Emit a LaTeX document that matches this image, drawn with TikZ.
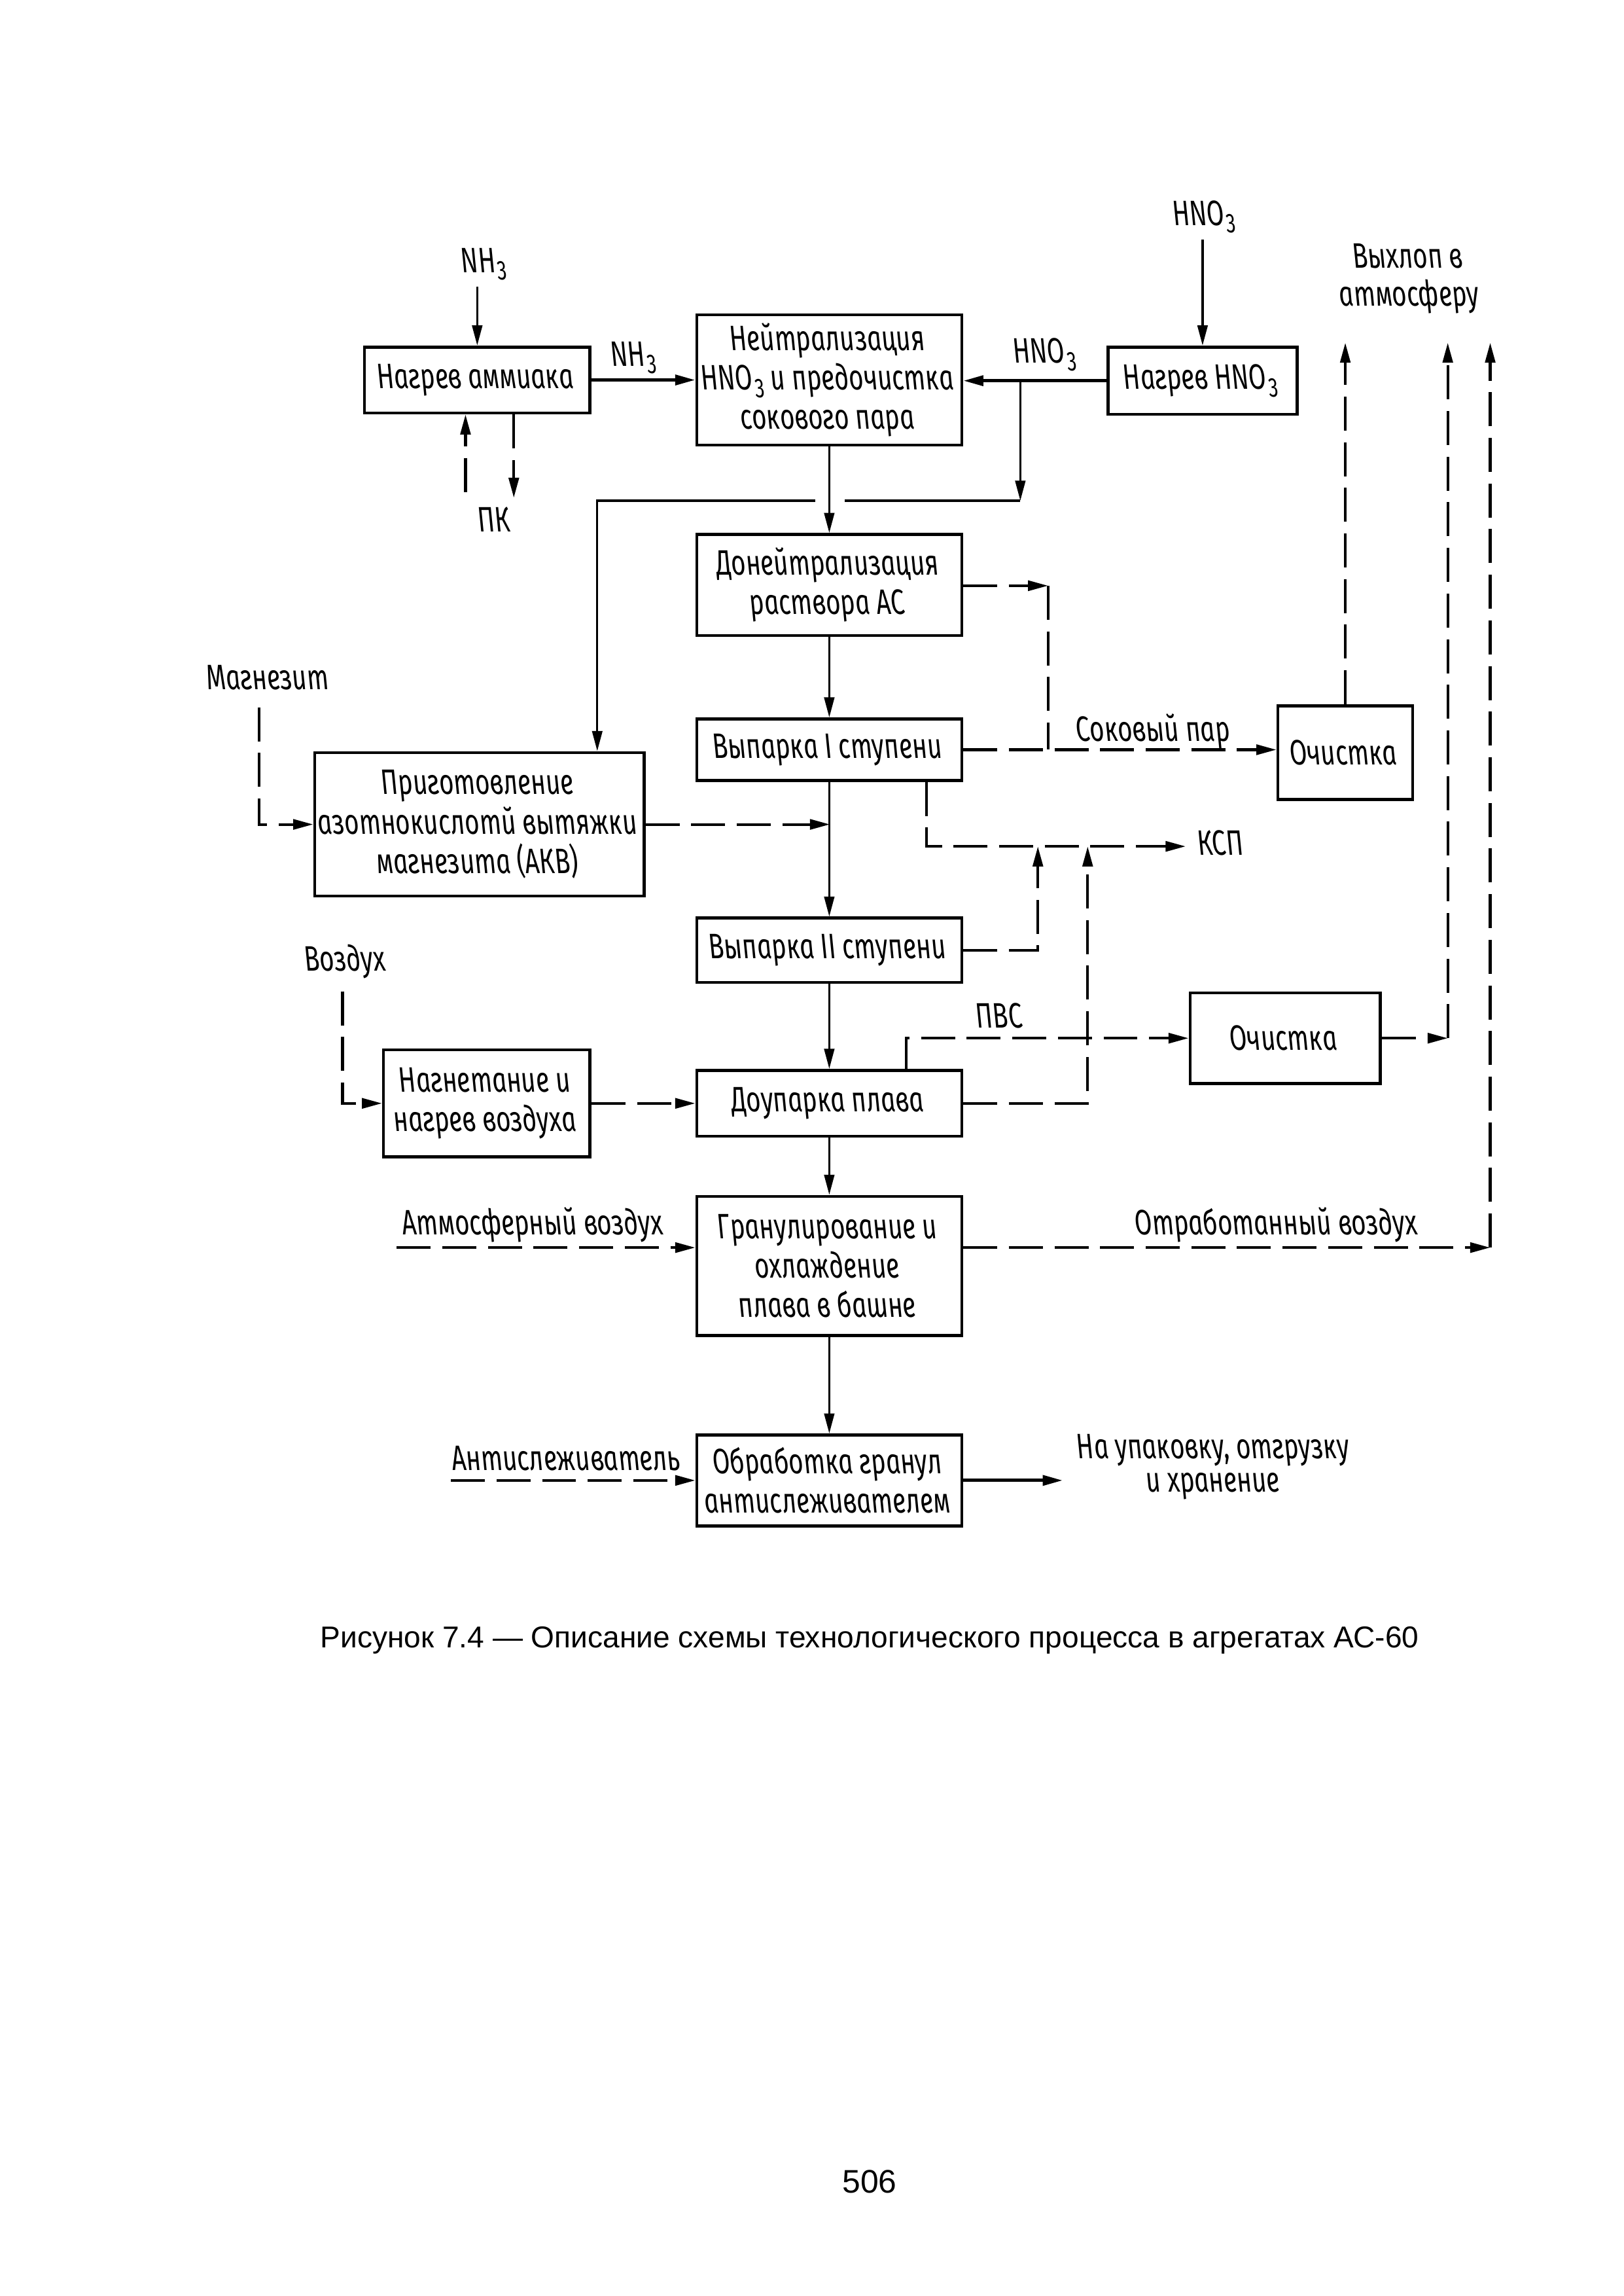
\documentclass[tikz,border=0pt]{standalone}
\usepackage{fontspec}
\setmainfont{Liberation Sans}
\newfontfamily\gost{Fira Sans}[FakeStretch=0.72, ItalicFeatures={FakeSlant=-0.2}]
\usetikzlibrary{arrows.meta}
\newcommand\lowsub[1]{\kern0.6pt\raisebox{-0.4ex}{\fontsize{10}{10}\selectfont #1}}
\begin{document}
\begin{tikzpicture}[
  x=0.18935mm, y=-0.18935mm,
  gfont/.style={font=\gost\itshape\fontsize{13}{14.5}\selectfont},
  box/.style 2 args={draw, line width=1.1pt, minimum width=#1*0.18935mm, minimum height=#2*0.18935mm, inner sep=0pt, align=center, gfont},
  lbl/.style={gfont, inner sep=0pt},
  arr/.style={-{Triangle[length=2.6mm,width=1.3mm]}},
  sl/.style={line width=0.8pt},
  bl/.style={line width=1.2pt},
  dl/.style={line width=1pt, dash pattern=on 4.4mm off 1.5mm},
]
\useasboundingbox (0,0) rectangle (1109,1568);

% boxes
\node[box={154}{45}] (amm) at (326,259.5) {Нагрев аммиака};
\node[box={181}{89}] (neut) at (566.5,259.5) {Нейтрализация\\HNO\lowsub{3} и предочистка\\сокового пара};
\node[box={129}{46}] (hno) at (821.5,260) {Нагрев HNO\lowsub{3}};
\node[box={181}{69}] (don) at (566.5,399.5) {Донейтрализация\\раствора АС};
\node[box={181}{42}] (vy1) at (566.5,512) {Выпарка I ступени};
\node[box={92}{64}] (och1) at (919,514) {Очистка};
\node[box={225}{98}] (akv) at (327.5,563) {Приготовление\\азотнокислотй вытяжки\\магнезита (АКВ)};
\node[box={181}{44}] (vy2) at (566.5,649) {Выпарка II ступени};
\node[box={130}{62}] (och2) at (878,709) {Очистка};
\node[box={141}{73}] (nag) at (332.5,753.5) {Нагнетание и\\нагрев воздуха};
\node[box={181}{45}] (dou) at (566.5,753.5) {Доупарка плава};
\node[box={181}{95}] (gran) at (566.5,864.5) {Гранулирование и\\охлаждение\\плава в башне};
\node[box={181}{62}] (obr) at (566.5,1011) {Обработка гранул\\антислеживателем};

% top inputs
\node[lbl,anchor=base] (lnh3a) at (332,186) {NH\lowsub{3}};
\draw[sl,arr] (lnh3a.south -| amm.north) ++(0,4) -- (amm.north);
\draw[bl,arr] (amm) -- (neut);
\node[lbl,anchor=base] (lnh3b) at (434,250) {NH\lowsub{3}};
\node[lbl,anchor=base] (lhno3a) at (824,154) {HNO\lowsub{3}};
\draw[sl,arr] (lhno3a.south -| hno.north) ++(0,4) -- (hno.north);
\draw[bl,arr] (hno.west) -- (hno.west -| neut.east);
\node[lbl,anchor=base] (lhno3b) at (715,248) {HNO\lowsub{3}};
\coordinate (b1) at (697,260);
\coordinate (b2) at (697,342);
\coordinate (b3) at (577,342);
\coordinate (b4) at (557,342);
\coordinate (b5) at (408,342);
\draw[sl,arr] (b1) -- (b2);
\draw[sl] (b2) -- (b3);
\draw[sl,arr] (b4) -- (b5) -- (b5 |- akv.north);

% PK
\node[lbl,anchor=base] (lpk) at (339,363) {ПК};
\coordinate (pk1) at (318,336);
\coordinate (pk2) at (351,340);
\draw[dl,arr] (pk1) -- (pk1 |- amm.south);
\draw[dl,arr] (pk2 |- amm.south) -- (pk2);

% main column
\draw[sl,arr] (neut) -- (don);
\draw[sl,arr] (don) -- (vy1);
\coordinate (d1) at (716,400);
\coordinate (d2) at (716,512);
\draw[dl,arr] (don.east |- d1) -- (d1);
\draw[dl] (d1) -- (d2);
\draw[dl,arr] (vy1.east) -- (vy1.east -| och1.west);
\node[lbl,anchor=base] (lsok) at (789,506) {Соковый пар};
\coordinate (e1) at (919,234);
\draw[dl,arr] (och1.north) -- (e1);
\node[lbl,anchor=base] (lvyh1) at (963,183) {Выхлоп в};
\node[lbl,anchor=base] (lvyh2) at (964,209) {атмосферу};

% KSP
\coordinate (k1) at (633,578);
\coordinate (k2) at (810,578);
\draw[dl,arr] (k1 |- vy1.south) -- (k1) -- (k2);
\node[lbl,anchor=base west] (lksp) at (819,584) {КСП};
\coordinate (k3) at (709,649);
\coordinate (k4) at (709,578);
\draw[dl,arr] (vy2.east |- k3) -- (k3) -- (k4);
\coordinate (k5) at (743,753.5);
\coordinate (k6) at (743,578);
\draw[dl,arr] (dou.east |- k5) -- (k5) -- (k6);

% PVS
\coordinate (p1) at (619,709);
\draw[dl,arr] (p1 |- dou.north) -- (p1) -- (p1 -| och2.west);
\node[lbl,anchor=base] (lpvs) at (684,702) {ПВС};
\coordinate (r1) at (989,709);
\coordinate (r2) at (989,234);
\draw[dl,arr] (och2.east) -- (r1);
\draw[dl,arr] (r1) -- (r2);
\coordinate (s1) at (1018,852);
\coordinate (s2) at (1018,234);
\draw[dl,arr] (gran.east |- s1) -- (s1);
\draw[dl,arr] (s1) -- (s2);
\node[lbl,anchor=base] (lotr) at (873,843) {Отработанный воздух};

% magnezit
\node[lbl,anchor=base] (lmag) at (184,471) {Магнезит};
\coordinate (m1) at (177,483);
\coordinate (m2) at (177,563);
\draw[dl,arr] (m1) -- (m2) -- (akv.west);
\coordinate (m3) at (567,563);
\draw[dl,arr] (akv.east) -- (m3);
\draw[sl,arr] (vy1) -- (vy2);
\draw[sl,arr] (vy2) -- (dou);

% air
\node[lbl,anchor=base] (lvoz) at (237,663) {Воздух};
\coordinate (v1) at (234,677);
\coordinate (v2) at (234,753.5);
\draw[dl,arr] (v1) -- (v2) -- (nag.west);
\draw[dl,arr] (nag) -- (dou);
\draw[sl,arr] (dou) -- (gran);
\node[lbl,anchor=base] (latm) at (365,843) {Атмосферный воздух};
\coordinate (a1) at (271,852);
\draw[dl,arr] (a1) -- (a1 -| gran.west);
\draw[sl,arr] (gran) -- (obr);
\node[lbl,anchor=base] (lanti) at (388,1004) {Антислеживатель};
\coordinate (t1) at (308,1011);
\draw[dl,arr] (t1) -- (obr.west);
\coordinate (o1) at (726,1011);
\draw[bl,arr] (obr.east) -- (o1);
\node[lbl,anchor=base] (lup1) at (830,996) {На упаковку, отгрузку};
\node[lbl,anchor=base] (lup2) at (830,1019) {и хранение};

% caption and page number
\node[font=\fontsize{11.1}{13}\selectfont, inner sep=0pt] (cap) at (594,1120) {Рисунок 7.4 — Описание схемы технологического процесса в агрегатах АС-60};
\node[font=\fontsize{12}{14}\selectfont, inner sep=0pt] (pnum) at (594,1490) {506};
\end{tikzpicture}
\end{document}
